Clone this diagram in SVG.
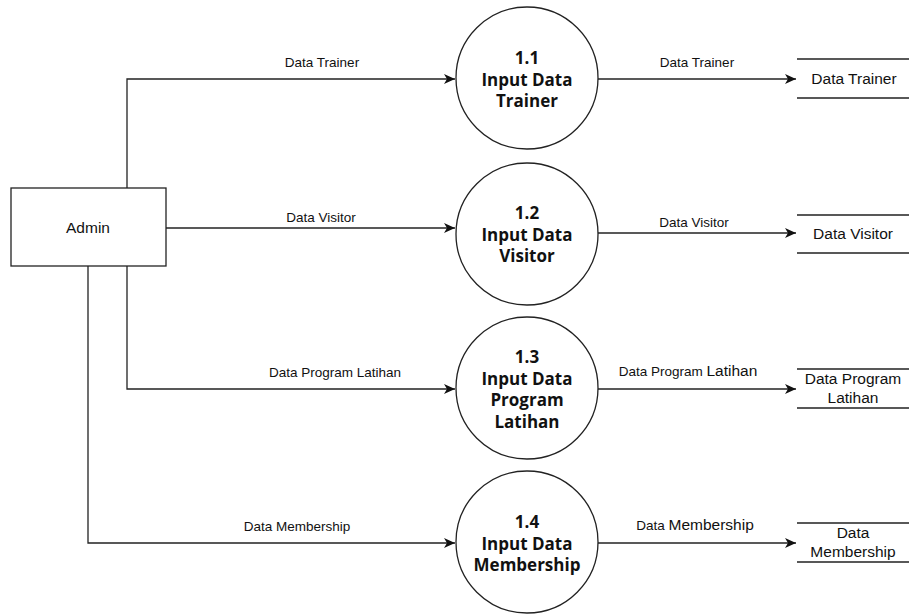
<svg xmlns="http://www.w3.org/2000/svg" width="909" height="615" viewBox="0 0 909 615">
<style>
.ln{fill:none;stroke:#222;stroke-width:1.3}
.proc{fill:#fff;stroke:#222;stroke-width:1.3}
.pt{font-family:"Open Sans",sans-serif;font-weight:bold;font-size:17px;fill:#111;text-anchor:middle}
.lb{font-family:"Liberation Sans",Arial,sans-serif;font-size:13.5px;fill:#111;text-anchor:middle}
.st{font-family:"Liberation Sans",Arial,sans-serif;font-size:15.5px;fill:#111;text-anchor:middle}
</style>
<defs>
<marker id="ar" markerWidth="12" markerHeight="10" refX="11" refY="5" orient="auto" markerUnits="userSpaceOnUse">
<path d="M0,0 L11,5 L0,10 L3,5 Z" fill="#111"/>
</marker>
</defs>
<rect width="909" height="615" fill="#fff"/>
<g id="connectors">
<path class="ln" d="M127,188 V79 H455" marker-end="url(#ar)"/>
<path class="ln" d="M166,228 H455" marker-end="url(#ar)"/>
<path class="ln" d="M127,266 V389 H455" marker-end="url(#ar)"/>
<path class="ln" d="M88,266 V543 H455" marker-end="url(#ar)"/>
<path class="ln" d="M598,79 H796" marker-end="url(#ar)"/>
<path class="ln" d="M598,233 H796" marker-end="url(#ar)"/>
<path class="ln" d="M598,389 H796" marker-end="url(#ar)"/>
<path class="ln" d="M598,543 H796" marker-end="url(#ar)"/>
<text class="lb" x="322" y="67">Data Trainer</text>
<text class="lb" x="321" y="222">Data Visitor</text>
<text class="lb" x="335" y="377">Data Program Latihan</text>
<text class="lb" x="297" y="531">Data Membership</text>
<text class="lb" x="697" y="67">Data Trainer</text>
<text class="lb" x="694" y="227">Data Visitor</text>
<text class="lb" x="688" y="376">Data Program <tspan font-size="15.5">Latihan</tspan></text>
<text class="lb" x="695" y="530">Data <tspan font-size="15.5">Membership</tspan></text>
</g>
<g id="admin">
<rect x="11" y="188" width="155" height="78" fill="#fff" stroke="#222" stroke-width="1.3"/>
<text class="st" x="88" y="233">Admin</text>
</g>
<g id="p11">
<circle class="proc" cx="527" cy="78" r="71"/>
<text class="pt" x="527" y="64">1.1</text>
<text class="pt" x="527" y="86">Input Data</text>
<text class="pt" x="527" y="107">Trainer</text>
</g>
<g id="p12">
<circle class="proc" cx="527" cy="234" r="71"/>
<text class="pt" x="527" y="219">1.2</text>
<text class="pt" x="527" y="241">Input Data</text>
<text class="pt" x="527" y="262">Visitor</text>
</g>
<g id="p13">
<circle class="proc" cx="527" cy="388" r="71"/>
<text class="pt" x="527" y="363">1.3</text>
<text class="pt" x="527" y="385">Input Data</text>
<text class="pt" x="527" y="406">Program</text>
<text class="pt" x="527" y="428">Latihan</text>
</g>
<g id="p14">
<circle class="proc" cx="527" cy="542" r="71"/>
<text class="pt" x="527" y="528">1.4</text>
<text class="pt" x="527" y="550">Input Data</text>
<text class="pt" x="527" y="571">Membership</text>
</g>
<g id="s1">
<path class="ln" d="M797,59 H909 M797,98 H909"/>
<text class="st" x="854" y="84">Data Trainer</text>
</g>
<g id="s2">
<path class="ln" d="M797,215 H909 M797,253 H909"/>
<text class="st" x="853" y="239">Data Visitor</text>
</g>
<g id="s3">
<path class="ln" d="M797,369 H909 M797,408 H909"/>
<text class="st" x="853" y="384">Data Program</text>
<text class="st" x="853" y="403">Latihan</text>
</g>
<g id="s4">
<path class="ln" d="M797,523 H909 M797,562 H909"/>
<text class="st" x="853" y="538">Data</text>
<text class="st" x="853" y="557">Membership</text>
</g>
</svg>
